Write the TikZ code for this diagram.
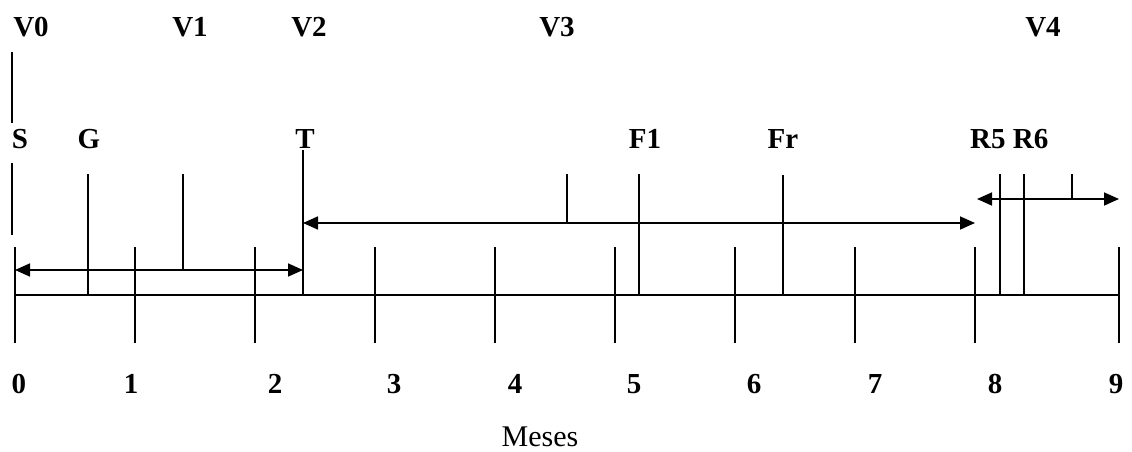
\documentclass[tikz,border=0pt]{standalone}
\usepackage{fontspec}
\setmainfont{Liberation Serif}
\usetikzlibrary{arrows.meta}
\begin{document}
\begin{tikzpicture}[x=1pt,y=-1pt,
  rule/.style={line width=1.7pt},
  span/.style={rule,{Triangle[length=15pt,width=13pt]}-{Triangle[length=15pt,width=13pt]}},
  lbl/.style={font=\fontsize{29}{29}\selectfont\bfseries, inner sep=0pt, anchor=base},
  unit/.style={font=\fontsize{30}{30}\selectfont, inner sep=0pt, text depth=0pt, anchor=base}]
\useasboundingbox (0,0) rectangle (1132,452);

% visit labels
\node[lbl] (v0) at (31,37) {V0};
\node[lbl] (v1) at (190,37) {V1};
\node[lbl] (v2) at (309,37) {V2};
\node[lbl] (v3) at (557,37) {V3};
\node[lbl] (v4) at (1043,37) {V4};

% event labels
\node[lbl] (s) at (20,148) {S};
\node[lbl] (g) at (89,148) {G};
\node[lbl] (t) at (305,148) {T};
\node[lbl] (f1) at (645,148) {F1};
\node[lbl] (fr) at (783,148) {Fr};
\node[lbl, anchor=base west] (r) at (970,148) {R5 R6};

% month axis
\coordinate (a0) at (15,295);
\coordinate (a9) at (1119,295);
\draw[rule] (a0) -- (a9);
\foreach \i/\x/\lx in {0/15/19, 1/135/131, 2/255/275, 3/375/394, 4/495/515,
                      5/615/634, 6/735/754, 7/855/875, 8/975/995, 9/1119/1116}{
  \coordinate (mt\i) at (\x,247);
  \coordinate (mb\i) at (\x,343);
  \draw[rule] (mt\i) -- (mb\i);
  \node[lbl] (m\i) at (\lx,393) {\i};
}
\node[unit] (meses) at (540,446) {Meses};

% markers above the axis
\coordinate (v0a) at (12,52);   \coordinate (v0b) at (12,123);
\coordinate (sa) at (12,163);   \coordinate (sb) at (12,235);
\coordinate (ga) at (88,174);   \coordinate (gb) at (88,295);
\coordinate (v1a) at (183,174); \coordinate (v1b) at (183,270);
\coordinate (ta) at (303,150);  \coordinate (tb) at (303,295);
\coordinate (v3a) at (567,174); \coordinate (v3b) at (567,223);
\coordinate (f1a) at (639,174); \coordinate (f1b) at (639,295);
\coordinate (fra) at (783,175); \coordinate (frb) at (783,295);
\coordinate (r5a) at (1000,174); \coordinate (r5b) at (1000,295);
\coordinate (r6a) at (1024,174); \coordinate (r6b) at (1024,295);
\coordinate (v4a) at (1072,174); \coordinate (v4b) at (1072,199);
\foreach \p in {v0,s,g,v1,t,v3,f1,fr,r5,r6,v4}
  \draw[rule] (\p a) -- (\p b);

% phase spans
\coordinate (p1a) at (15,270);  \coordinate (p1b) at (303,270);
\coordinate (p2a) at (303,223); \coordinate (p2b) at (975,223);
\coordinate (p3a) at (977,199); \coordinate (p3b) at (1119,199);
\draw[span] (p1a) -- (p1b);
\draw[span] (p2a) -- (p2b);
\draw[span] (p3a) -- (p3b);
\end{tikzpicture}
\end{document}
